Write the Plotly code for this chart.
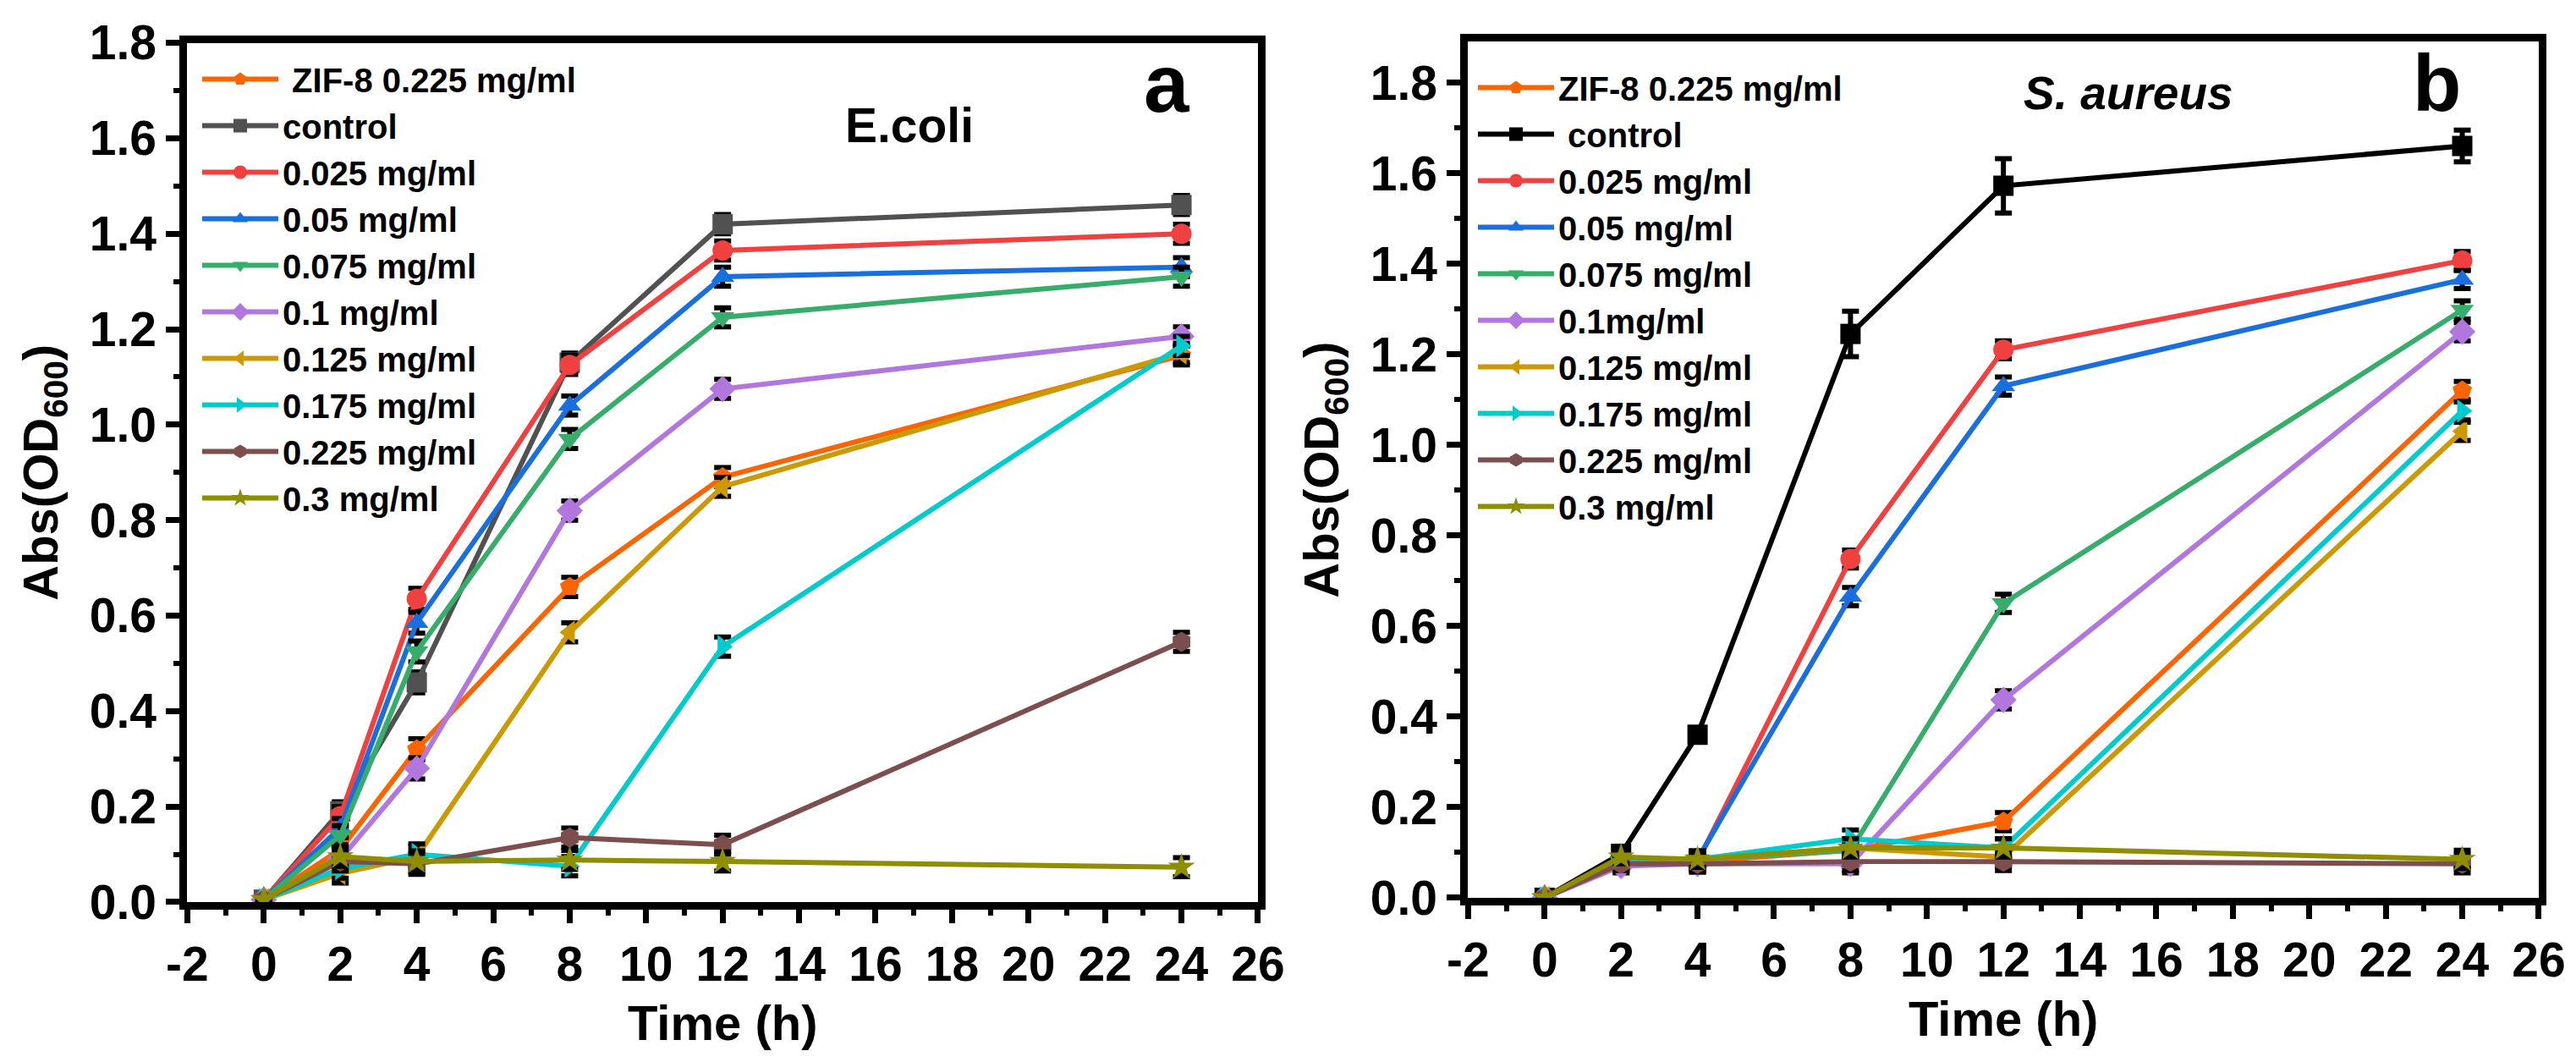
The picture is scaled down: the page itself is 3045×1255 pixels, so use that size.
import plotly.graph_objects as go

# sampling times (h)
hours = [0, 2, 4, 8, 12, 24]
time_ticks = [-2, 0, 2, 4, 6, 8, 10, 12, 14, 16, 18, 20, 22, 24, 26]
time_ticktext = ["-2", "0", "2", "4", "6", "8", "10", "12", "14", "16", "18", "20", "22", "24", "26"]

# legend labels (the leading spaces are in the original legends)
labels_a = ["\u00a0ZIF-8 0.225 mg/ml", "control", "0.025 mg/ml", "0.05 mg/ml", "0.075 mg/ml",
            "0.1 mg/ml", "0.125 mg/ml", "0.175 mg/ml", "0.225 mg/ml", "0.3 mg/ml"]
labels_b = ["ZIF-8 0.225 mg/ml", "\u00a0control", "0.025 mg/ml", "0.05 mg/ml", "0.075 mg/ml",
            "0.1mg/ml", "0.125 mg/ml", "0.175 mg/ml", "0.225 mg/ml", "0.3 mg/ml"]

# Abs(OD600), E. coli
ecoli_zif = [0.005, 0.11, 0.32, 0.66, 0.89, 1.145]
ecoli_control = [0.005, 0.19, 0.46, 1.13, 1.42, 1.46]
ecoli_025 = [0.005, 0.18, 0.635, 1.125, 1.365, 1.40]
ecoli_05 = [0.005, 0.155, 0.585, 1.04, 1.31, 1.33]
ecoli_075 = [0.005, 0.14, 0.525, 0.97, 1.225, 1.31]
ecoli_1 = [0.005, 0.09, 0.28, 0.82, 1.075, 1.185]
ecoli_125 = [0.005, 0.06, 0.095, 0.565, 0.87, 1.15]
ecoli_175 = [0.005, 0.07, 0.10, 0.075, 0.535, 1.165]
ecoli_225 = [0.005, 0.085, 0.08, 0.135, 0.12, 0.545]
ecoli_3 = [0.005, 0.095, 0.085, 0.088, 0.085, 0.073]

# Abs(OD600), S. aureus
saureus_zif = [0.0, 0.075, 0.08, 0.105, 0.168, 1.12]
saureus_control = [0.0, 0.097, 0.36, 1.245, 1.572, 1.66]
saureus_025 = [0.0, 0.08, 0.08, 0.748, 1.21, 1.407]
saureus_05 = [0.0, 0.08, 0.085, 0.665, 1.13, 1.365]
saureus_075 = [0.0, 0.08, 0.085, 0.105, 0.65, 1.298]
saureus_1 = [0.0, 0.07, 0.075, 0.075, 0.437, 1.25]
saureus_125 = [0.0, 0.085, 0.085, 0.11, 0.09, 1.03]
saureus_175 = [0.0, 0.08, 0.085, 0.13, 0.11, 1.075]
saureus_225 = [0.0, 0.075, 0.075, 0.08, 0.08, 0.075]
saureus_3 = [0.0, 0.09, 0.085, 0.11, 0.11, 0.085]

# error bars (standard deviation)
ecoli_err = [0.004, 0.02, 0.022, 0.02, 0.02, 0.02]
saureus_err = [0.004, 0.015, 0.018, 0.02, 0.02, 0.02]
saureus_control_err = [0.004, 0.012, 0.015, 0.05, 0.06, 0.035]

ecoli = [ecoli_zif, ecoli_control, ecoli_025, ecoli_05, ecoli_075,
         ecoli_1, ecoli_125, ecoli_175, ecoli_225, ecoli_3]
saureus = [saureus_zif, saureus_control, saureus_025, saureus_05, saureus_075,
           saureus_1, saureus_125, saureus_175, saureus_225, saureus_3]

colors_a = ["#FB6501", "#515151", "#F14040", "#1A6FDF", "#37AD6B",
            "#B177DE", "#CC9900", "#00CBCC", "#7D4E4E", "#8E8E00"]
colors_b = ["#FB6501", "#000000"] + colors_a[2:]
symbols = ["pentagon", "square", "circle", "triangle-up", "triangle-down",
           "diamond", "triangle-left", "triangle-right", "hexagon", "star"]

FONT = "Liberation Sans, Arial, sans-serif"

fig = go.Figure()

for i, ys in enumerate(ecoli):
    fig.add_trace(go.Scatter(
        x=hours, y=ys, name=labels_a[i], mode="lines+markers",
        line=dict(color=colors_a[i], width=6),
        marker=dict(symbol=symbols[i], size=24, color=colors_a[i], line=dict(width=0)),
        error_y=dict(type="data", array=ecoli_err, color="black", thickness=6, width=10),
        xaxis="x", yaxis="y", legend="legend",
    ))

for i, ys in enumerate(saureus):
    err = saureus_control_err if i == 1 else saureus_err
    fig.add_trace(go.Scatter(
        x=hours, y=ys, name=labels_b[i], mode="lines+markers",
        line=dict(color=colors_b[i], width=6),
        marker=dict(symbol=symbols[i], size=24, color=colors_b[i], line=dict(width=0)),
        error_y=dict(type="data", array=err, color="black", thickness=6, width=10),
        xaxis="x2", yaxis="y2", legend="legend2",
    ))

tickfont = dict(family=FONT, size=57, color="black", weight="bold")
titlefont = dict(family=FONT, size=58, color="black", weight="bold")
common = dict(
    showline=True, linewidth=9, linecolor="black", mirror=True,
    ticks="outside", ticklen=16, tickwidth=7, tickcolor="black",
    showgrid=False, zeroline=False, tickfont=tickfont, automargin=False,
)
xcommon = dict(common, range=[-2, 26], tickmode="array", tickvals=time_ticks, ticktext=time_ticktext,
               minor=dict(ticks="outside", ticklen=7, tickwidth=6, tickcolor="black", dtick=1, tick0=-1,
                          showgrid=False),
               title=dict(text="Time (h)", font=titlefont, standoff=22))
ycommon = dict(common, tick0=0, dtick=0.2, tickformat=".1f",
               minor=dict(ticks="outside", ticklen=7, tickwidth=6, tickcolor="black", dtick=0.1, showgrid=False),
               title=dict(text="Abs(OD<sub>600</sub>)", font=titlefont, standoff=22))

legend_common = dict(xanchor="left", yanchor="top", bgcolor="rgba(0,0,0,0)",
                     font=dict(family=FONT, size=40, color="black", weight="bold"),
                     itemwidth=90, tracegroupgap=0)

fig.update_layout(
    width=3045, height=1255,
    margin=dict(l=0, r=0, t=0, b=0, autoexpand=False),
    paper_bgcolor="white", plot_bgcolor="white",
    showlegend=True,
    xaxis=dict(xcommon, domain=[0.0701, 0.4857], anchor="y"),
    yaxis=dict(ycommon, domain=[0.157, 0.9661], range=[0, 1.8], anchor="x"),
    xaxis2=dict(xcommon, domain=[0.5673, 0.9829], anchor="y2"),
    yaxis2=dict(ycommon, domain=[0.161, 0.967], range=[0, 1.89], anchor="x2"),
    legend=dict(legend_common, x=226 / 3045, y=1 - 53 / 1255),
    legend2=dict(legend_common, x=1734 / 3045, y=1 - 63 / 1255),
    annotations=[
        dict(text="E.coli", x=1067 / 3045, y=1 - 140 / 1255, xref="paper", yref="paper",
             showarrow=False, xanchor="center", yanchor="middle",
             font=dict(family=FONT, size=57, color="black", weight="bold")),
        dict(text="a", x=1371 / 3045, y=1 - 90 / 1255, xref="paper", yref="paper",
             showarrow=False, xanchor="center", yanchor="middle",
             font=dict(family=FONT, size=96, color="black", weight="bold")),
        dict(text="S. aureus", x=2508 / 3045, y=1 - 102 / 1255, xref="paper", yref="paper",
             showarrow=False, xanchor="center", yanchor="middle",
             font=dict(family=FONT, size=55, color="black", weight="bold", style="italic")),
        dict(text="b", x=2872 / 3045, y=1 - 91 / 1255, xref="paper", yref="paper",
             showarrow=False, xanchor="center", yanchor="middle",
             font=dict(family=FONT, size=94, color="black", weight="bold")),
    ],
)

fig.write_html("out.html")
